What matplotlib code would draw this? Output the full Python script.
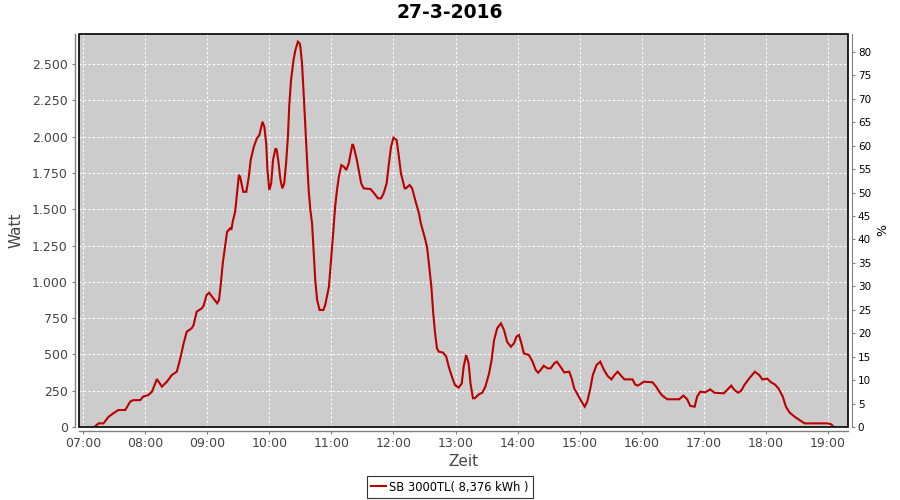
import matplotlib
matplotlib.use("Agg")
import matplotlib.pyplot as plt
from matplotlib.ticker import FuncFormatter, MultipleLocator
from matplotlib.patches import Rectangle

title = "27-3-2016"
series_label = "SB 3000TL( 8,376 kWh )"
x_label = "Zeit"
y_label = "Watt"
y2_label = "%"

# time of day in decimal hours
hours = [7.18, 7.25, 7.33, 7.41, 7.49, 7.57, 7.68, 7.76, 7.81, 7.92, 7.97, 8.05, 8.11, 8.19,
         8.27, 8.35, 8.43, 8.51, 8.56, 8.62, 8.67, 8.75, 8.78, 8.83, 8.91, 8.94, 8.99, 9.03,
         9.10, 9.16, 9.19, 9.22, 9.25, 9.29, 9.32, 9.37, 9.39, 9.41, 9.45, 9.48, 9.51, 9.53,
         9.58, 9.63, 9.67, 9.70, 9.75, 9.80, 9.84, 9.89, 9.92, 9.95, 9.97, 10.00, 10.03, 10.06,
         10.10, 10.12, 10.15, 10.18, 10.21, 10.24, 10.27, 10.30, 10.32, 10.35, 10.39, 10.42,
         10.46, 10.49, 10.50, 10.527, 10.553, 10.58, 10.608, 10.634, 10.661, 10.689, 10.715,
         10.74, 10.77, 10.81, 10.87, 10.90, 10.96, 10.99, 11.02, 11.06, 11.09, 11.12, 11.16,
         11.20, 11.24, 11.28, 11.31, 11.34, 11.36, 11.41, 11.45, 11.48, 11.52, 11.63, 11.69,
         11.75, 11.80, 11.84, 11.89, 11.92, 11.96, 12.00, 12.05, 12.08, 12.12, 12.18, 12.20,
         12.26, 12.30, 12.35, 12.41, 12.44, 12.50, 12.54, 12.57, 12.61, 12.64, 12.67, 12.70,
         12.73, 12.80, 12.85, 12.89, 12.95, 12.99, 13.05, 13.10, 13.13, 13.17, 13.21, 13.24,
         13.28, 13.31, 13.38, 13.43, 13.48, 13.54, 13.58, 13.62, 13.67, 13.73, 13.78, 13.83,
         13.89, 13.94, 13.98, 14.02, 14.06, 14.10, 14.18, 14.24, 14.29, 14.33, 14.37, 14.42,
         14.48, 14.53, 14.59, 14.63, 14.69, 14.75, 14.83, 14.87, 14.91, 14.97, 15.03, 15.08,
         15.12, 15.17, 15.21, 15.27, 15.33, 15.39, 15.45, 15.51, 15.56, 15.61, 15.67, 15.72,
         15.85, 15.89, 15.93, 15.97, 16.03, 16.17, 16.23, 16.28, 16.33, 16.41, 16.60, 16.67,
         16.73, 16.78, 16.85, 16.89, 16.94, 17.02, 17.10, 17.17, 17.32, 17.38, 17.44, 17.49,
         17.55, 17.60, 17.65, 17.73, 17.82, 17.89, 17.94, 18.02, 18.08, 18.14, 18.20, 18.27,
         18.32, 18.38, 18.46, 18.54, 18.62, 19.00, 19.05, 19.09]

watts = [0, 25, 25, 70, 95, 117, 117, 175, 185, 185, 210, 220, 243, 330,
         278, 312, 358, 381, 461, 576, 656, 680, 702, 794, 817, 833, 909, 925,
         886, 852, 875, 990, 1127, 1253, 1345, 1368, 1360, 1414, 1483, 1610, 1736, 1724,
         1620, 1620, 1724, 1839, 1930, 1988, 2011, 2103, 2068, 1954, 1770, 1632, 1678, 1839,
         1919, 1908, 1816, 1701, 1644, 1678, 1816, 2000, 2206, 2390, 2528, 2596,
         2654, 2642, 2619, 2505, 2298, 2068, 1839, 1632, 1495, 1400, 1196,
         1012, 875, 806, 806, 840, 966, 1127, 1288, 1517, 1632, 1724, 1804,
         1793, 1770, 1816, 1885, 1949, 1930, 1839, 1747, 1678, 1644, 1639, 1609,
         1575, 1575, 1609, 1678, 1793, 1930, 1993, 1977, 1885, 1747, 1644, 1644,
         1667, 1644, 1563, 1472, 1403, 1311, 1242, 1127, 966, 783, 645, 542,
         519, 512, 484, 415, 335, 289, 271, 301, 415, 496, 439, 301,
         198, 198, 227, 236, 278, 370, 461, 599, 680, 714, 668, 587,
         553, 576, 622, 634, 576, 507, 496, 450, 393, 374, 393, 422,
         404, 404, 439, 450, 415, 376, 381, 335, 266, 220, 174, 140,
         174, 266, 358, 427, 450, 393, 351, 328, 358, 381, 351, 328,
         328, 294, 285, 294, 312, 308, 278, 243, 216, 191, 191, 216,
         191, 145, 140, 209, 243, 239, 259, 236, 232, 259, 285, 255,
         236, 250, 289, 335, 381, 358, 328, 333, 308, 294, 266, 209,
         140, 99, 71, 48, 25, 25, 18, 0]

x_ticks = list(range(7, 20))
x_tick_labels = [f"{h:02d}:00" for h in x_ticks]

LINE = "#BB0000"
GRAY = "#808080"
TXT = "#444444"

fig = plt.figure(figsize=(9, 5), dpi=100)
fig.patch.set_facecolor("white")
ax = fig.add_axes([79 / 900, 73 / 500, 769 / 900, 393 / 500])
ax.set_facecolor("#CCCCCC")

ax.plot(hours, watts, color=LINE, lw=1.5, solid_joinstyle="miter", zorder=3)

ax.set_xlim(6.935, 19.32)
ax.set_ylim(0, 2707)
ax.set_xticks(x_ticks)
ax.set_xticklabels(x_tick_labels)
ax.yaxis.set_major_locator(MultipleLocator(250))
ax.yaxis.set_major_formatter(FuncFormatter(lambda v, p: f"{v:,.0f}".replace(",", ".")))
ax.grid(True, color="white", linestyle=(0, (2, 2)), linewidth=0.8)
ax.set_axisbelow(True)

for s in ["top", "right"]:
    ax.spines[s].set_visible(False)
for s in ["left", "bottom"]:
    ax.spines[s].set_position(("outward", 2.6))
    ax.spines[s].set_color(GRAY)
    ax.spines[s].set_linewidth(1.0)
ax.tick_params(axis="both", direction="out", length=2.5, width=0.8, color=GRAY,
               labelsize=9, labelcolor=TXT)
ax.tick_params(axis="y", pad=3)
ax.tick_params(axis="x", pad=2)

border = Rectangle((0, 0), 1, 1, transform=ax.transAxes, fill=False,
                   edgecolor="black", linewidth=1.2, clip_on=False, zorder=5)
ax.add_patch(border)

ax2 = ax.twinx()
ax2.set_ylim(0, 83.8)
ax2.yaxis.set_major_locator(MultipleLocator(5))
for s in ["top", "left", "bottom"]:
    ax2.spines[s].set_visible(False)
ax2.spines["right"].set_position(("outward", 2.6))
ax2.spines["right"].set_color(GRAY)
ax2.tick_params(axis="y", direction="out", length=2.5, width=0.8, color=GRAY,
                labelsize=7.5, labelcolor="black", pad=2)

ax.set_xlabel(x_label, fontsize=11, color=TXT, labelpad=3)
ax.set_ylabel(y_label, fontsize=11, color=TXT, labelpad=6)
ax2.set_ylabel(y2_label, fontsize=9, color="black", labelpad=4)

fig.suptitle(title, fontsize=13.5, fontweight="bold", y=0.993, x=0.5, va="top")

leg = fig.legend([ax.lines[0]], [series_label], loc="center", bbox_to_anchor=(0.5, 0.026),
                 fontsize=8.3, frameon=True, fancybox=False, edgecolor="black",
                 handlelength=1.3, handletextpad=0.3, borderpad=0.35, borderaxespad=0)
leg.get_frame().set_linewidth(0.8)

fig.savefig("out.png", dpi=100, facecolor="white")
